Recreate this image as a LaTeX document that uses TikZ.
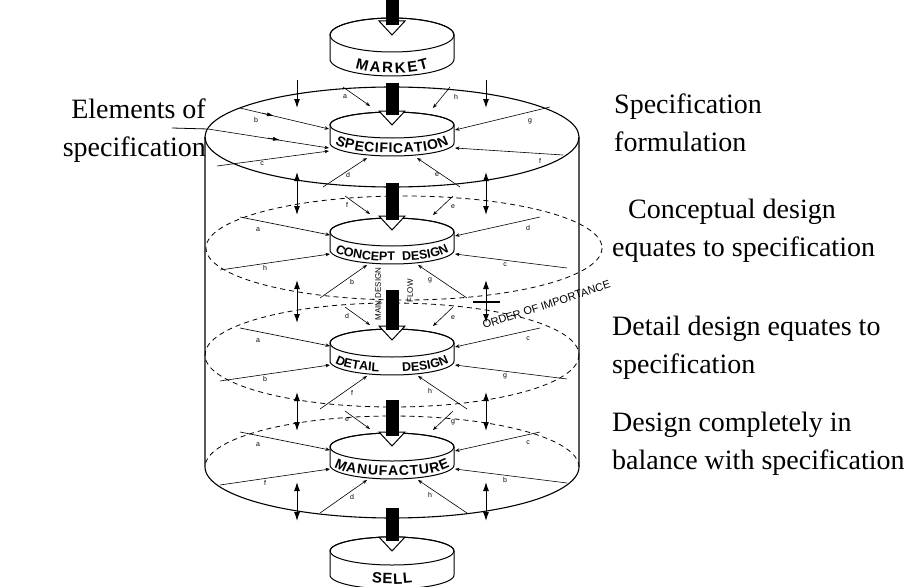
\documentclass[tikz,border=0pt]{standalone}
\usepackage{fontspec}
\setmainfont{Liberation Serif}
\newfontfamily\lsans{Liberation Sans}
\usetikzlibrary{arrows.meta,decorations.text}
\newcommand\lfmt{\lsans\bfseries\fontsize{14}{14}\selectfont}
\newcommand\cfmt{\lsans\bfseries\fontsize{12.5}{13}\selectfont}
\newcommand\bfmt{\lsans\bfseries\fontsize{15}{15}\selectfont}
\tikzset{
  wall/.style={line width=1.1pt},
  ring/.style={line width=0.8pt, dash pattern=on 5pt off 4pt},
  spoke/.style={line width=0.6pt, -{Stealth[length=4.5pt,width=3.5pt]}},
  dbl/.style={line width=1pt, {Latex[length=9pt,width=6pt]}-{Latex[length=9pt,width=6pt]}},
  dwn/.style={line width=1pt, -{Latex[length=9pt,width=6pt]}},
  lett/.style={font=\lsans\fontsize{7}{7}\selectfont, inner sep=0pt},
  bigtext/.style={font=\fontsize{28}{28}\selectfont, inner sep=0pt},
  disclab/.style={font=\lsans\fontsize{8}{8}\selectfont, inner sep=0pt}
}
% disc: #1 cy, #2 ry, #3 thickness
\newcommand\discbody[3]{%
  \filldraw[fill=white, line width=1pt] (330,#1) -- plot[domain=0:180,samples=40] ({392-62*cos(\x)},{#1+#3+#2*sin(\x)})
     -- plot[domain=0:180,samples=40] ({392+62*cos(\x)},{#1-#2*sin(\x)}) -- cycle;
  \draw[line width=1pt] (392,#1) ellipse [x radius=62, y radius=#2];
}
% black flow arrow: #1 start y, #2 tip y
\newcommand\flowarrow[2]{%
  \filldraw[fill=white, line width=1pt, line join=miter] (379,#2-14) -- (405,#2-14) -- (392,#2) -- cycle;
  \fill (385.5,#1) rectangle (398.5,#2-10);
}
% spokes of a level: #1 cy, letters UL UR LU LL RU RL BL BR
\newcommand\spokes[9]{%
  \draw[spoke] (345,#1-36) -- (370,#1-18);
  \draw[spoke] (453,#1-36) -- (433,#1-17);
  \draw[spoke] (240,#1-15) -- (330,#1+3);
  \draw[spoke] (220,#1+38) -- (330,#1+22);
  \draw[spoke] (540,#1-15) -- (455,#1+4);
  \draw[spoke] (567,#1+36) -- (455,#1+22);
  \draw[spoke] (320,#1+66) -- (367,#1+33);
  \draw[spoke] (467,#1+66) -- (418,#1+33);
  \node[lett] at (347,#1-27) {#2};
  \node[lett] at (453,#1-25) {#3};
  \node[lett] at (258,#1-2) {#4};
  \node[lett] at (265,#1+36) {#5};
  \node[lett] at (528,#1-4) {#6};
  \node[lett] at (505,#1+33) {#7};
  \node[lett] at (352,#1+50) {#8};
  \node[lett] at (430,#1+48) {#9};
}
\begin{document}
\begin{tikzpicture}[x=1pt,y=-1pt]
\useasboundingbox (0,0) rectangle (915,586);

% dashed level rings
\draw[ring] (404,248) ellipse [x radius=198, y radius=52];
\draw[ring] (392,355) ellipse [x radius=187, y radius=52];
\draw[ring] plot[domain=0:180,samples=60] ({392+187*cos(\x)},{467-51*sin(\x)});

% cylinder
\draw[wall] (392,137) ellipse [x radius=187, y radius=50];
\draw[wall] (205,137) -- (205,467) -- plot[domain=0:180,samples=60] ({392-187*cos(\x)},{467+51*sin(\x)}) -- (579,137);

% elements pointer and top-level spokes
\coordinate (elin) at (172,128);
\coordinate (elrim) at (208,129);
\draw[line width=0.8pt] (elin) -- (elrim);
\draw[spoke] (343,87) -- (370,106);
\draw[spoke] (450,87) -- (433,108);
\draw[spoke] (240,108) -- (329,129);
\draw[spoke] (elrim) -- (329,148);
\draw[spoke] (217,166) -- (329,151);
\draw[spoke] (550,107) -- (455,130);
\draw[spoke] (563,155) -- (455,148);
\draw[spoke] (323,187) -- (367,158);
\draw[spoke] (460,187) -- (417,158);
\draw[line width=0.6pt, -{Latex[length=7pt,width=4pt]}] (262,113) -- (274,116);
\draw[line width=0.6pt, -{Latex[length=7pt,width=4pt]}] (268,138) -- (280,140);
\node[lett] at (345,97) {a};
\node[lett] at (456,97) {h};
\node[lett] at (256,120) {b};
\node[lett] at (262,164) {c};
\node[lett] at (530,121) {g};
\node[lett] at (540,161) {f};
\node[lett] at (348,175) {d};
\node[lett] at (437,175) {e};

% lower level spokes
\spokes{232}{f}{e}{a}{h}{d}{c}{b}{g}
\spokes{343}{d}{e}{a}{b}{c}{g}{f}{h}
\spokes{447}{e}{g}{a}{f}{c}{b}{d}{h}

% vertical arrows
\draw[dwn] (297,80) -- (297,108);
\draw[dwn] (486,80) -- (486,108);
\foreach \ya/\yb in {172/215, 280/323, 392/431, 482/521}{
  \draw[dbl] (297,\ya) -- (297,\yb);
  \draw[dbl] (486,\ya) -- (486,\yb);
}
\draw[line width=2pt] (473,302) -- (500,302);

% discs
\discbody{35}{17}{24}
\discbody{125}{13}{18}
\discbody{232}{14}{18}
\discbody{343}{14}{18}
\discbody{447}{14}{18}
\discbody{551}{14}{24}

\path[decorate, decoration={text along path, text={|\bfmt|MARKET}, text align={fit to path}}]
  plot[domain=35:145,samples=30] ({392-45*cos(\x)},{61+12*sin(\x)});
\path[decorate, decoration={text along path, text={|\lfmt|SPECIFICATION}, text align={fit to path}}]
  plot[domain=12:168,samples=30] ({392-58*cos(\x)},{141+12*sin(\x)});
\path[decorate, decoration={text along path, text={|\cfmt|CONCEPT DESIGN}, text align={fit to path stretching spaces}}]
  plot[domain=12:168,samples=30] ({392-58*cos(\x)},{249+12*sin(\x)});
\path[decorate, decoration={text along path, text={|\cfmt|DETAIL DESIGN}, text align={fit to path stretching spaces}}]
  plot[domain=12:168,samples=30] ({392-58*cos(\x)},{360+12*sin(\x)});
\path[decorate, decoration={text along path, text={|\lfmt|MANUFACTURE}, text align={fit to path}}]
  plot[domain=12:168,samples=30] ({392-59*cos(\x)},{464+12*sin(\x)});
\path[decorate, decoration={text along path, text={|\bfmt|SELL}, text align={fit to path}}]
  plot[domain=63:117,samples=20] ({392-45*cos(\x)},{572+12*sin(\x)});

% main flow arrows
\flowarrow{0}{35}
\flowarrow{83}{125}
\flowarrow{183}{230}
\flowarrow{290}{340}
\flowarrow{400}{446}
\flowarrow{508}{551}

\node[disclab, rotate=90] (mdf) at (378,294) {MAIN DESIGN};
\node[disclab, rotate=90] (flw) at (410,291) {FLOW};
\node[font=\lsans\fontsize{11}{11}\selectfont, inner sep=0pt, rotate=18, anchor=base west] (ooi) at (484,329) {ORDER OF IMPORTANCE};

% side texts
\node[bigtext, anchor=base east] (el1) at (206,118) {Elements of};
\node[bigtext, anchor=base east] (el2) at (206,156) {specification};
\node[bigtext, anchor=base west] (sf1) at (614,113) {Specification};
\node[bigtext, anchor=base west] (sf2) at (614,151) {formulation};
\node[bigtext, anchor=base west] (cd1) at (628,218) {Conceptual design};
\node[bigtext, anchor=base west] (cd2) at (612,256) {equates to specification};
\node[bigtext, anchor=base west] (dd1) at (612,335) {Detail design equates to};
\node[bigtext, anchor=base west] (dd2) at (612,373) {specification};
\node[bigtext, anchor=base west] (dc1) at (612,431) {Design completely in};
\node[bigtext, anchor=base west] (dc2) at (612,469) {balance with specification};
\end{tikzpicture}
\end{document}
